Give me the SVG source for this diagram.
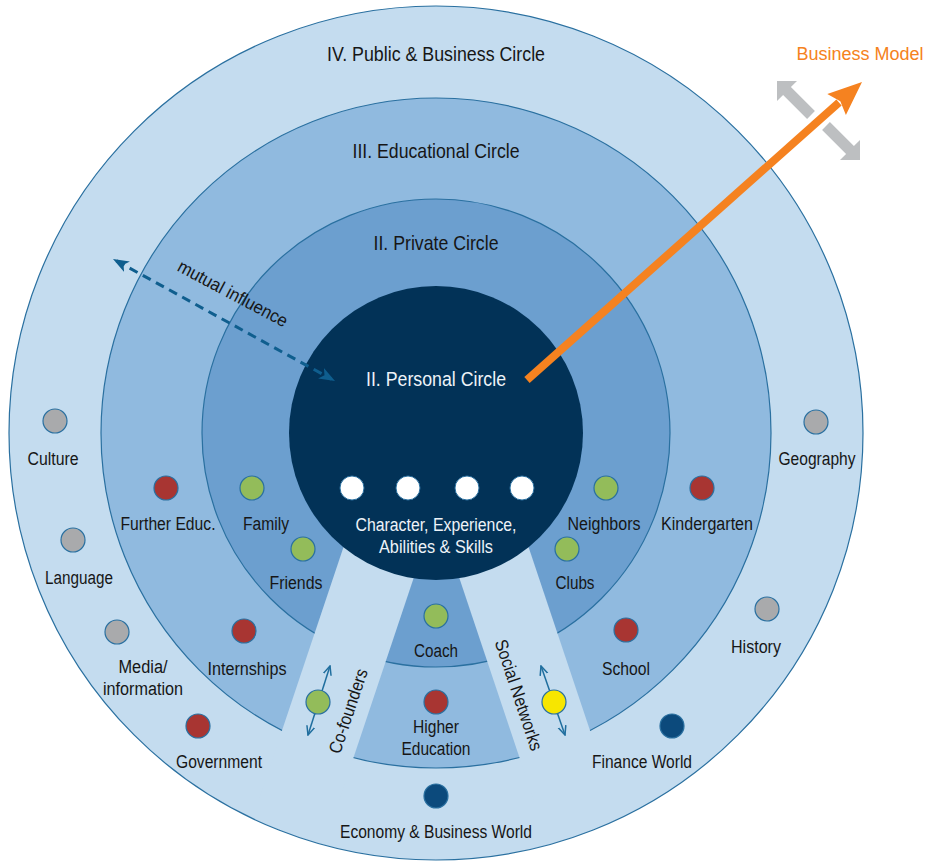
<svg xmlns="http://www.w3.org/2000/svg" width="931" height="862" viewBox="0 0 931 862">
<style>
.ring{stroke:#2a70a0;stroke-width:1.2}
.c4{fill:#c4dcef}.c3{fill:#90badf}.c2{fill:#6c9fcf}.c1{fill:#023257}
.strip{fill:#c4dcef}
text{font-family:"Liberation Sans",Arial,sans-serif;text-anchor:middle}
.lbl{font-size:18px;fill:#161616}
.hd{font-size:21px;fill:#161616}
.wt{font-size:18px;fill:#eef3f8}
.wt20{font-size:20.5px;fill:#eef3f8}
.dot{stroke:#2a70a0;stroke-width:1.2}
.gray{fill:#a9aaac}.red{fill:#a83532}.green{fill:#93bc5a}.yellow{fill:#f7e600}.navy{fill:#0c4a7c}.white{fill:#ffffff}
.dash{stroke:#0f5e8e;stroke-width:3;stroke-dasharray:9 6;fill:none}
.thin{stroke:#1f6e9e;stroke-width:1.5;fill:none}
</style>
<defs>
<marker id="stealth" viewBox="0 0 16 12" markerWidth="16" markerHeight="12" refX="12" refY="6" orient="auto-start-reverse" markerUnits="userSpaceOnUse">
<path d="M0,0 L16,6 L0,12 L4,6 z" fill="#0f5e8e"/>
</marker>
<marker id="vopen" viewBox="0 0 10 10" markerWidth="10" markerHeight="10" refX="9" refY="5" orient="auto-start-reverse" markerUnits="userSpaceOnUse">
<path d="M0,1 L9,5 L0,9" fill="none" stroke="#1f6e9e" stroke-width="1.5"/>
</marker>
</defs>

<g id="circles">
<circle class="ring c4" cx="436" cy="433" r="427"/>
<circle class="ring c3" cx="436" cy="433" r="335"/>
<circle class="ring c2" cx="436" cy="433" r="234"/>
<polygon class="strip" points="366,480 446.5,480 339.3,800 258.7,800"/>
<polygon class="strip" points="426.5,480 506.1,480 613.3,800 533.7,800"/>
<circle class="c1" cx="436" cy="433" r="147"/>
</g>

<g id="headings">
<text class="hd" x="436" y="61" textLength="218" lengthAdjust="spacingAndGlyphs">IV. Public &amp; Business Circle</text>
<text class="hd" x="436" y="158" textLength="167" lengthAdjust="spacingAndGlyphs">III. Educational Circle</text>
<text class="hd" x="436" y="250" textLength="125" lengthAdjust="spacingAndGlyphs">II. Private Circle</text>
</g>

<g id="personal">
<text class="wt20" x="436" y="386" textLength="140" lengthAdjust="spacingAndGlyphs">II. Personal Circle</text>
<circle class="white" cx="352" cy="488" r="12" stroke="#2a70a0" stroke-width="1"/>
<circle class="white" cx="408" cy="488" r="12" stroke="#2a70a0" stroke-width="1"/>
<circle class="white" cx="467" cy="488" r="12" stroke="#2a70a0" stroke-width="1"/>
<circle class="white" cx="522" cy="488" r="12" stroke="#2a70a0" stroke-width="1"/>
<text class="wt" x="436" y="531" textLength="161" lengthAdjust="spacingAndGlyphs">Character, Experience,</text>
<text class="wt" x="436" y="553" textLength="114" lengthAdjust="spacingAndGlyphs">Abilities &amp; Skills</text>
</g>

<g id="connectors">
<line class="dash" x1="116.5" y1="260.9" x2="331.5" y2="379.1" marker-start="url(#stealth)" marker-end="url(#stealth)"/>
<line class="thin" x1="330" y1="666" x2="308" y2="735" marker-start="url(#vopen)" marker-end="url(#vopen)"/>
<line class="thin" x1="541" y1="666" x2="565" y2="735" marker-start="url(#vopen)" marker-end="url(#vopen)"/>
<polygon fill="#bdbfc1" points="777,81 797,81 790.9,87.1 814.9,111.1 807.1,118.9 783.1,94.9 777,101"/>
<polygon fill="#bdbfc1" points="829.9,122.1 853.9,146.1 860,140 860,160 840,160 846.1,153.9 822.1,129.9"/>
<line x1="527" y1="380" x2="839" y2="102.5" stroke="#f58220" stroke-width="8"/>
<polygon fill="#f58220" points="862,82 845.9,115.1 840.3,101.3 827.3,94.1"/>
</g>

<g id="mutual-label">
<text class="lbl" x="230" y="299" transform="rotate(28 230 299)" textLength="122" lengthAdjust="spacingAndGlyphs">mutual influence</text>
</g>
<g id="business-model">
<text x="860" y="60" style="font-size:18px;fill:#f58220">Business Model</text>
</g>

<g id="culture"><circle class="dot gray" cx="55" cy="421" r="12"/><text class="lbl" x="53" y="465" textLength="51" lengthAdjust="spacingAndGlyphs">Culture</text></g>
<g id="language"><circle class="dot gray" cx="73" cy="540" r="12"/><text class="lbl" x="79" y="584" textLength="68" lengthAdjust="spacingAndGlyphs">Language</text></g>
<g id="media"><circle class="dot gray" cx="117" cy="632" r="12"/><text class="lbl" x="143" y="673" textLength="49" lengthAdjust="spacingAndGlyphs">Media/</text><text class="lbl" x="143" y="695" textLength="80" lengthAdjust="spacingAndGlyphs">information</text></g>
<g id="government"><circle class="dot red" cx="198" cy="726" r="12"/><text class="lbl" x="219" y="768" textLength="86" lengthAdjust="spacingAndGlyphs">Government</text></g>
<g id="further-educ"><circle class="dot red" cx="166" cy="488" r="12"/><text class="lbl" x="168" y="530" textLength="95" lengthAdjust="spacingAndGlyphs">Further Educ.</text></g>
<g id="family"><circle class="dot green" cx="252" cy="488" r="12"/><text class="lbl" x="266" y="530" textLength="46" lengthAdjust="spacingAndGlyphs">Family</text></g>
<g id="friends"><circle class="dot green" cx="303" cy="549" r="12"/><text class="lbl" x="296" y="589" textLength="53" lengthAdjust="spacingAndGlyphs">Friends</text></g>
<g id="internships"><circle class="dot red" cx="244" cy="631" r="12"/><text class="lbl" x="247" y="675" textLength="79" lengthAdjust="spacingAndGlyphs">Internships</text></g>
<g id="coach"><circle class="dot green" cx="436" cy="616" r="12"/><text class="lbl" x="436" y="657" textLength="44" lengthAdjust="spacingAndGlyphs">Coach</text></g>
<g id="higher-education"><circle class="dot red" cx="436" cy="702" r="12"/><text class="lbl" x="436" y="733" textLength="46" lengthAdjust="spacingAndGlyphs">Higher</text><text class="lbl" x="436" y="755" textLength="69" lengthAdjust="spacingAndGlyphs">Education</text></g>
<g id="co-founders"><circle class="dot green" cx="318" cy="702" r="12"/><text class="lbl" x="354" y="713" transform="rotate(-71.5 354 713)" textLength="88" lengthAdjust="spacingAndGlyphs">Co-founders</text></g>
<g id="social-networks"><circle class="dot yellow" cx="554" cy="702" r="12"/><text class="lbl" x="513" y="697" transform="rotate(71.5 513 697)" textLength="116" lengthAdjust="spacingAndGlyphs">Social Networks</text></g>
<g id="neighbors"><circle class="dot green" cx="606" cy="488" r="12"/><text class="lbl" x="604" y="530" textLength="73" lengthAdjust="spacingAndGlyphs">Neighbors</text></g>
<g id="clubs"><circle class="dot green" cx="567" cy="549" r="12"/><text class="lbl" x="575" y="589" textLength="39" lengthAdjust="spacingAndGlyphs">Clubs</text></g>
<g id="kindergarten"><circle class="dot red" cx="702" cy="488" r="12"/><text class="lbl" x="707" y="530" textLength="92" lengthAdjust="spacingAndGlyphs">Kindergarten</text></g>
<g id="school"><circle class="dot red" cx="626" cy="630" r="12"/><text class="lbl" x="626" y="675" textLength="48" lengthAdjust="spacingAndGlyphs">School</text></g>
<g id="geography"><circle class="dot gray" cx="816" cy="422" r="12"/><text class="lbl" x="817" y="465" textLength="77" lengthAdjust="spacingAndGlyphs">Geography</text></g>
<g id="history"><circle class="dot gray" cx="767" cy="609" r="12"/><text class="lbl" x="756" y="653" textLength="50" lengthAdjust="spacingAndGlyphs">History</text></g>
<g id="finance-world"><circle class="dot navy" cx="672" cy="726" r="12"/><text class="lbl" x="642" y="768" textLength="100" lengthAdjust="spacingAndGlyphs">Finance World</text></g>
<g id="economy"><circle class="dot navy" cx="436" cy="796" r="12"/><text class="lbl" x="436" y="838" textLength="192" lengthAdjust="spacingAndGlyphs">Economy &amp; Business World</text></g>
</svg>
